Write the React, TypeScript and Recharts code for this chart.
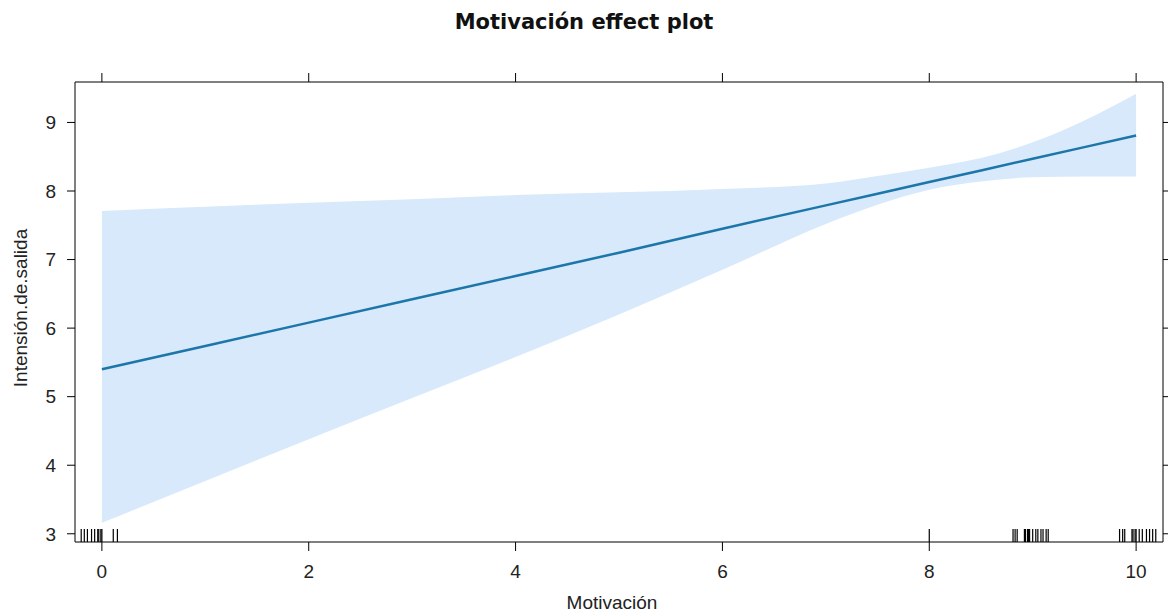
import { ComposedChart, Area, Line, Scatter, XAxis, YAxis } from "recharts";

// effect estimate and confidence band
const motivacion = [0, 1, 2, 3, 4, 5, 6, 7, 7.5, 8, 8.5, 9, 9.5, 10];
const fit = [5.4, 5.74, 6.08, 6.42, 6.76, 7.1, 7.45, 7.79, 7.96, 8.13, 8.3, 8.47, 8.64, 8.81];
const lower = [3.16, 3.77, 4.38, 4.98, 5.58, 6.2, 6.85, 7.52, 7.8, 8.02, 8.14, 8.2, 8.21, 8.21];
const upper = [7.71, 7.77, 7.83, 7.88, 7.94, 7.98, 8.03, 8.11, 8.22, 8.34, 8.48, 8.71, 9.03, 9.42];

// jittered observations shown as a rug along the bottom
const rugValues = [
  -0.2, -0.17, -0.14, -0.1, -0.07, -0.04, -0.03, -0.01, 0.0, 0.11, 0.15,
  8.0,
  8.81, 8.83, 8.85, 8.92, 8.93, 8.95, 8.96, 8.97, 9.0, 9.03, 9.05, 9.08, 9.1, 9.13, 9.15,
  9.84, 9.87, 9.89, 9.96, 9.97, 9.99, 10.0, 10.03, 10.06, 10.1, 10.13, 10.16, 10.19,
];

const xTicks = [0, 2, 4, 6, 8, 10];
const yTicks = [3, 4, 5, 6, 7, 8, 9];

const X_DOMAIN: [number, number] = [-0.26, 10.26];
const Y_DOMAIN: [number, number] = [2.88, 9.59];

const chartData = motivacion.map((x, i) => ({
  x,
  fit: fit[i],
  band: [lower[i], upper[i]],
}));

const rugData = rugValues.map((x) => ({ x, y: Y_DOMAIN[0] }));

const FONT = "'Liberation Sans', Arial, sans-serif";
const tickStyle = { fontSize: 19, fill: "#222", fontFamily: FONT };
const blank = () => "";

const RugMark = (props: any) => {
  const { cx, cy } = props;
  return <line x1={cx} x2={cx} y1={cy} y2={cy - 13} stroke="#000" strokeWidth={1.2} />;
};

const YLabel = (props: any) => {
  const { viewBox } = props;
  const x = viewBox.x + 20;
  const y = viewBox.y + viewBox.height / 2 - 4;
  return (
    <text
      x={x}
      y={y}
      transform={`rotate(-90 ${x} ${y})`}
      textAnchor="middle"
      dominantBaseline="central"
      fontSize={19}
      fill="#222"
      fontFamily={FONT}
    >
      Intensión.de.salida
    </text>
  );
};

export default function App() {
  return (
    <div style={{ position: "absolute", left: 0, top: 0, width: 1168, height: 614, background: "#fff" }}>
      <div
        style={{
          position: "absolute",
          top: 12,
          left: 0,
          width: 1168,
          textAlign: "center",
          fontFamily: "'DejaVu Sans', Verdana, sans-serif",
          fontWeight: "bold",
          fontSize: 21,
          lineHeight: "21px",
          color: "#111",
        }}
      >
        Motivación effect plot
      </div>
      <ComposedChart
        width={1168}
        height={614}
        data={chartData}
        margin={{ top: 0, right: 0, bottom: 0, left: 0 }}
      >
        <XAxis
          dataKey="x"
          type="number"
          domain={X_DOMAIN}
          ticks={xTicks}
          allowDataOverflow
          height={72}
          tickSize={9}
          tickMargin={14}
          tick={tickStyle}
          axisLine={{ stroke: "#000" }}
          tickLine={{ stroke: "#000" }}
          label={{ value: "Motivación", position: "insideBottom", offset: 5, dx: -7, fontSize: 19, fill: "#222", fontFamily: FONT }}
        />
        <XAxis
          xAxisId="top"
          dataKey="x"
          orientation="top"
          type="number"
          domain={X_DOMAIN}
          ticks={xTicks}
          allowDataOverflow
          height={82}
          tickSize={9}
          tickFormatter={blank}
          axisLine={{ stroke: "#000" }}
          tickLine={{ stroke: "#000" }}
        />
        <YAxis
          type="number"
          domain={Y_DOMAIN}
          ticks={yTicks}
          allowDataOverflow
          width={75}
          tickSize={8}
          tickMargin={11}
          tick={tickStyle}
          axisLine={{ stroke: "#000" }}
          tickLine={{ stroke: "#000" }}
          label={{ content: YLabel }}
        />
        <YAxis
          yAxisId="right"
          orientation="right"
          type="number"
          domain={Y_DOMAIN}
          ticks={yTicks}
          allowDataOverflow
          width={5}
          tickSize={5}
          tickFormatter={blank}
          axisLine={{ stroke: "#000" }}
          tickLine={{ stroke: "#000" }}
        />
        <Area
          type="monotone"
          dataKey="band"
          stroke="none"
          fill="#d7e9fb"
          fillOpacity={1}
          isAnimationActive={false}
        />
        <Line
          type="linear"
          dataKey="fit"
          stroke="#1c76aa"
          strokeWidth={2.5}
          dot={false}
          activeDot={false}
          isAnimationActive={false}
        />
        {/* invisible series so the top axis shares the bottom scale */}
        <Line
          xAxisId="top"
          yAxisId="right"
          type="linear"
          dataKey="fit"
          stroke="none"
          dot={false}
          activeDot={false}
          isAnimationActive={false}
        />
        <Scatter data={rugData} dataKey="y" shape={RugMark} isAnimationActive={false} />
      </ComposedChart>
    </div>
  );
}
